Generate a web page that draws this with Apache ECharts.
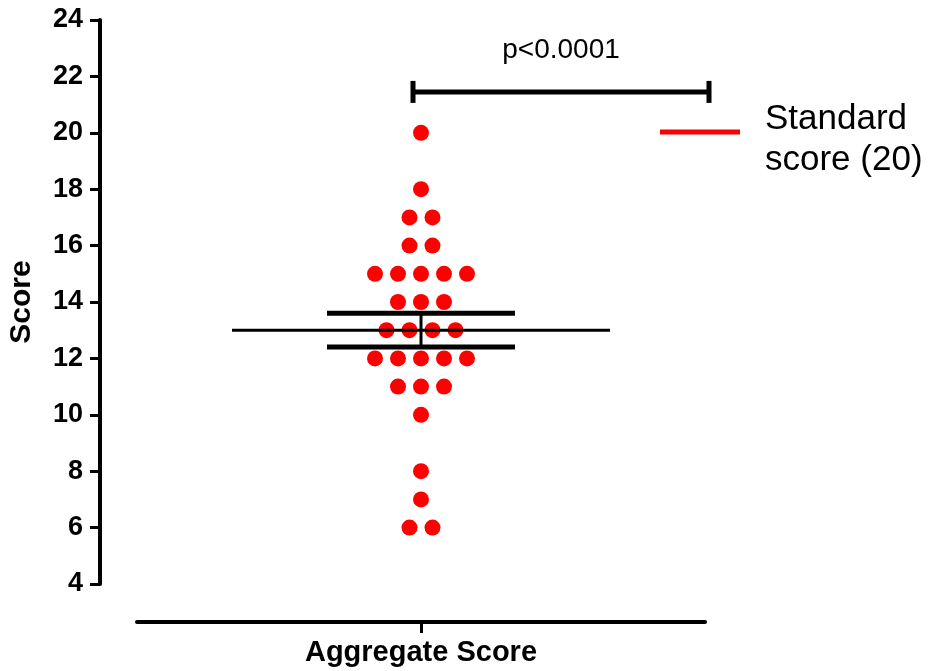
<!DOCTYPE html>
<html>
<head>
<meta charset="utf-8">
<script src="https://cdn.jsdelivr.net/npm/echarts@6/dist/echarts.min.js"></script>
<style>html,body{margin:0;padding:0;background:#fff}#c{width:933px;height:671px}</style>
</head>
<body>
<div id="c"></div>
<script>
// ---- data ----
var categories = ['Aggregate Score'];
var scores = [20, 18, 17, 17, 16, 16, 15, 15, 15, 15, 15, 14, 14, 14, 13, 13, 13, 13,
              12, 12, 12, 12, 12, 11, 11, 11, 10, 8, 7, 6, 6];
var yTicks = [4, 6, 8, 10, 12, 14, 16, 18, 20, 22, 24];
var significanceLevel = 21.45;
var pLabel = 'p<0.0001';
var standardLabel = 'Standard score (20)';
var standardLabelLines = ['Standard', 'score (20)'];
var standardScore = 20;

// ---- statistics ----
var n = scores.length;
var mean = scores.reduce(function (a, b) { return a + b; }, 0) / n;
var sd = Math.sqrt(scores.reduce(function (a, b) { return a + (b - mean) * (b - mean); }, 0) / (n - 1));
var sem = sd / Math.sqrt(n);

// ---- beeswarm layout (pixel offsets per row) ----
var DOT_STEP = 23;
var counts = {};
scores.forEach(function (v) { counts[v] = (counts[v] || 0) + 1; });
var seen = {};
var dotData = scores.map(function (v) {
  var i = seen[v] || 0; seen[v] = i + 1;
  var off = (i - (counts[v] - 1) / 2) * DOT_STEP;
  return { value: [0, v], symbolOffset: [off, 0] };
});

var FONT = '"Liberation Sans", Arial, sans-serif';
var chart = echarts.init(document.getElementById('c'), null, { renderer: 'canvas' });

chart.setOption({
  animation: false,
  backgroundColor: '#ffffff',
  grid: { left: 137, right: 228, top: 20, bottom: 87, containLabel: false, outerBoundsMode: 'none' },
  legend: {
    left: 660, top: 90,
    padding: 0,
    data: [standardLabel],
    icon: 'rect',
    itemWidth: 80, itemHeight: 5,
    formatter: function () {
      return '{s| }\n{t|' + standardLabelLines[0] + '}\n{t|' + standardLabelLines[1] + '}';
    },
    textStyle: {
      fontFamily: FONT, fontSize: 35, color: '#000',
      rich: {
        s: { fontSize: 2, lineHeight: 16 },
        t: { fontFamily: FONT, fontSize: 35, color: '#000', lineHeight: 41, padding: [0, 0, 0, 20] }
      }
    },
    selectedMode: false
  },
  xAxis: {
    type: 'category',
    data: categories,
    offset: 38,
    axisLine: { show: true, lineStyle: { color: '#000', width: 4 } },
    axisTick: { show: true, alignWithLabel: true, length: 11, lineStyle: { color: '#000', width: 3 } },
    axisLabel: { fontFamily: FONT, fontWeight: 'bold', fontSize: 29, color: '#000', margin: 16 },
    splitLine: { show: false }
  },
  yAxis: {
    type: 'value',
    min: yTicks[0], max: yTicks[yTicks.length - 1], interval: 2,
    offset: 37,
    name: 'Score',
    nameLocation: 'middle',
    nameGap: 63,
    nameTextStyle: { fontFamily: FONT, fontWeight: 'bold', fontSize: 30, color: '#000' },
    axisLine: { show: true, lineStyle: { color: '#000', width: 4 } },
    axisTick: { show: true, length: 10, lineStyle: { color: '#000', width: 3 } },
    axisLabel: { fontFamily: FONT, fontWeight: 'bold', fontSize: 27, color: '#000', margin: 17 },
    splitLine: { show: false }
  },
  series: [
    {
      type: 'scatter',
      name: 'Scores',
      data: dotData,
      symbol: 'circle',
      symbolSize: 16,
      itemStyle: { color: '#ff0000', opacity: 1 },
      z: 2
    },
    {
      type: 'custom',
      name: 'Mean ± SEM',
      data: [[0, mean, sem]],
      clip: false,
      z: 3,
      renderItem: function (params, api) {
        var c = api.coord([api.value(0), api.value(1)]);
        var hi = api.coord([api.value(0), api.value(1) + api.value(2)]);
        var lo = api.coord([api.value(0), api.value(1) - api.value(2)]);
        var cx = c[0];
        var s = { stroke: '#000', lineWidth: 3 };
        var sb = { stroke: '#000', lineWidth: 5 };
        return {
          type: 'group',
          children: [
            { type: 'line', shape: { x1: cx - 189, y1: c[1], x2: cx + 189, y2: c[1] }, style: s },
            { type: 'line', shape: { x1: cx - 94, y1: hi[1], x2: cx + 94, y2: hi[1] }, style: sb },
            { type: 'line', shape: { x1: cx - 94, y1: lo[1], x2: cx + 94, y2: lo[1] }, style: sb },
            { type: 'line', shape: { x1: cx, y1: hi[1], x2: cx, y2: lo[1] }, style: s }
          ]
        };
      }
    },
    {
      type: 'custom',
      name: 'Significance',
      data: [[0, significanceLevel]],
      clip: false,
      z: 3,
      renderItem: function (params, api) {
        var p = api.coord([api.value(0), api.value(1)]);
        var x1 = p[0] - 8, x2 = p[0] + 288, y = p[1];
        var s = { stroke: '#000', lineWidth: 5 };
        return {
          type: 'group',
          children: [
            { type: 'line', shape: { x1: x1, y1: y, x2: x2, y2: y }, style: s },
            { type: 'line', shape: { x1: x1, y1: y - 11, x2: x1, y2: y + 11 }, style: s },
            { type: 'line', shape: { x1: x2, y1: y - 11, x2: x2, y2: y + 11 }, style: s },
            { type: 'text', x: (x1 + x2) / 2, y: y - 42,
              style: { text: pLabel, fontFamily: FONT, fontSize: 28, fill: '#000', align: 'center', verticalAlign: 'middle' } }
          ]
        };
      }
    },
    {
      type: 'line',
      name: standardLabel,
      data: [],
      itemStyle: { color: '#ff0000' },
      lineStyle: { color: '#ff0000', width: 5 },
      silent: true
    }
  ]
});
</script>
</body>
</html>
